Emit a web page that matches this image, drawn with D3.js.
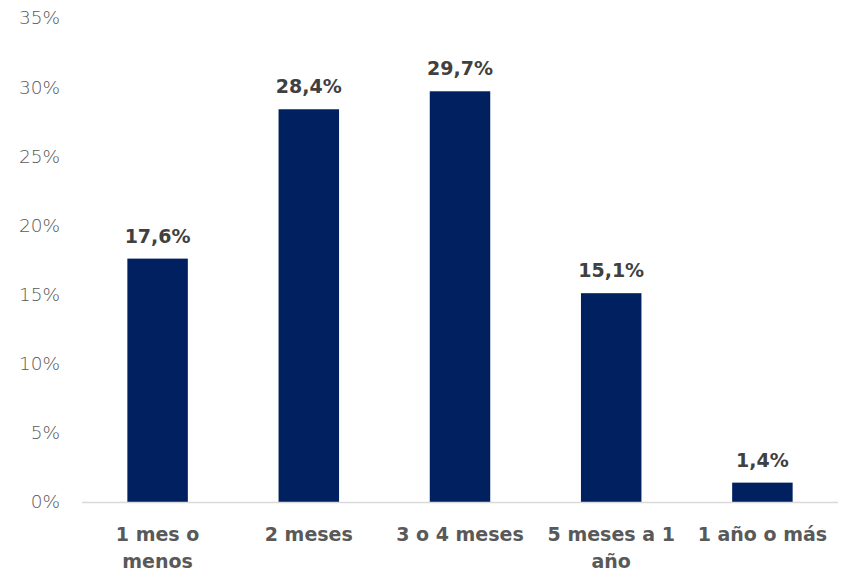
<!DOCTYPE html>
<html><head><meta charset="utf-8">
<script src="https://cdn.jsdelivr.net/npm/d3@7"></script>
<style>
html,body{margin:0;padding:0;background:#fff;}
svg{display:block;}
</style></head>
<body>
<svg id="chart" width="848" height="572"></svg>
<script>
const categories = ["1 mes o menos", "2 meses", "3 o 4 meses", "5 meses a 1 año", "1 año o más"];
const values = [17.6, 28.4, 29.7, 15.1, 1.4];
const valueLabels = ["17,6%", "28,4%", "29,7%", "15,1%", "1,4%"];
const yTicks = [0, 5, 10, 15, 20, 25, 30, 35];

(function(){
const svg = d3.select("#chart");
const font = "'DejaVu Sans', 'Open Sans', sans-serif";
const mLeft = 82, mRight = 838, mTop = 18, mBottom = 502;

const x = d3.scaleBand().domain(categories).range([mLeft, mRight]).paddingInner(0.6).paddingOuter(0.3);
const y = d3.scaleLinear().domain([0, 35]).range([mBottom, mTop]);

const yAxis = d3.axisLeft(y).tickValues(yTicks).tickFormat(d => d + "%").tickSize(0).tickPadding(22);
const ya = svg.append("g").attr("transform", `translate(${mLeft},0)`).call(yAxis);
ya.select(".domain").remove();
ya.selectAll("text").attr("font-family", font).attr("font-weight", 200).attr("font-size", 18.5).attr("fill", "#595959");

svg.append("g").selectAll("rect").data(values).join("rect")
  .attr("x", (d, i) => x(categories[i]))
  .attr("y", d => y(d))
  .attr("width", x.bandwidth())
  .attr("height", d => y(0) - y(d))
  .attr("fill", "#002060");

const xAxis = d3.axisBottom(x).tickSize(0).tickPadding(0);
const xa = svg.append("g").attr("transform", `translate(0,${mBottom})`).call(xAxis);
xa.select(".domain").attr("stroke", "#d9d9d9").attr("stroke-width", 1.5).attr("d", `M${mLeft},0.5H${mRight}`);
xa.selectAll(".tick text").remove();

const maxW = 145;
xa.selectAll(".tick").each(function(d) {
  const g = d3.select(this);
  const t = g.append("text").attr("text-anchor", "middle").attr("font-family", font)
    .attr("font-weight", 700).attr("font-size", 19).attr("fill", "#595959").attr("y", 39);
  const words = d.split(" ");
  let lines = [], cur = [];
  const probe = t.append("tspan");
  words.forEach(w => {
    const test = cur.concat([w]).join(" ");
    probe.text(test);
    if (probe.node().getComputedTextLength() > maxW && cur.length) {
      lines.push(cur.join(" ")); cur = [w];
    } else cur.push(w);
  });
  lines.push(cur.join(" "));
  probe.remove();
  lines.forEach((l, i) => t.append("tspan").attr("x", 0).attr("dy", i ? 27 : 0).text(l));
});

svg.append("g").selectAll("text").data(values).join("text")
  .attr("x", (d, i) => x(categories[i]) + x.bandwidth() / 2)
  .attr("y", d => y(d) - 16)
  .attr("text-anchor", "middle")
  .attr("font-family", font).attr("font-weight", 700).attr("font-size", 19).attr("fill", "#404040")
  .text((d, i) => valueLabels[i]);
})();
</script>
</body></html>
